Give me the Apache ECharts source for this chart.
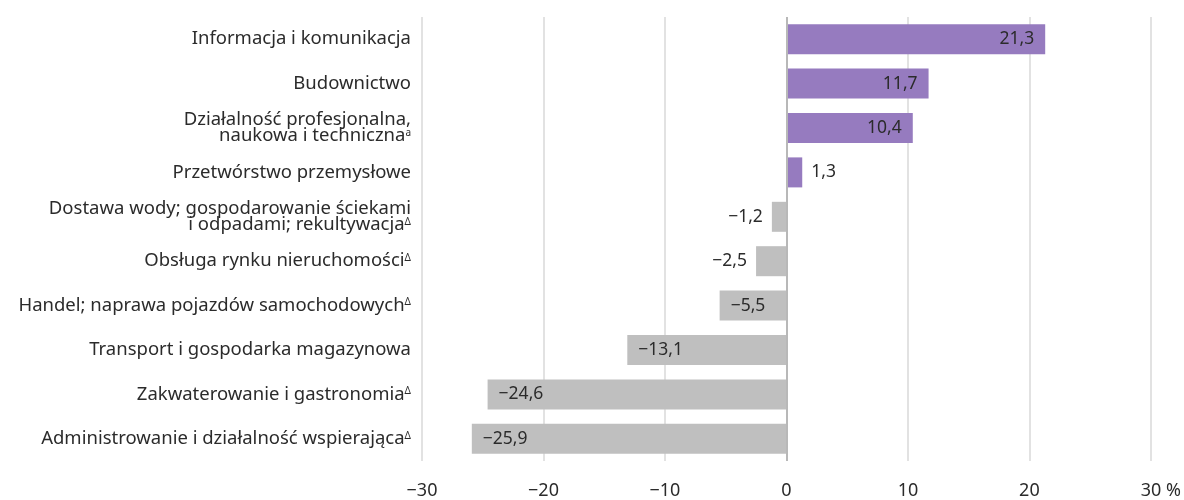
<!DOCTYPE html>
<html>
<head>
<meta charset="utf-8">
<script src="https://cdn.jsdelivr.net/npm/echarts@6/dist/echarts.min.js"></script>
<style>
  html, body { margin: 0; padding: 0; background: #fff; }
  #chart { width: 1184px; height: 500px; }
</style>
</head>
<body>
<div id="chart"></div>
<script>
const categories = [
  'Informacja i komunikacja',
  'Budownictwo',
  'Działalność profesjonalna,\nnaukowa i techniczna',
  'Przetwórstwo przemysłowe',
  'Dostawa wody; gospodarowanie ściekami\ni odpadami; rekultywacja',
  'Obsługa rynku nieruchomości',
  'Handel; naprawa pojazdów samochodowych',
  'Transport i gospodarka magazynowa',
  'Zakwaterowanie i gastronomia',
  'Administrowanie i działalność wspierająca'
];
// przypisy przy nazwach sekcji
const marks = ['', '', 'a', '', 'Δ', 'Δ', 'Δ', '', 'Δ', 'Δ'];
const values = [21.3, 11.7, 10.4, 1.3, -1.2, -2.5, -5.5, -13.1, -24.6, -25.9];
const xTicks = [-30, -20, -10, 0, 10, 20, 30];

const FONT = '"Noto Sans", sans-serif';
const TEXT = '#2b2b2b';

const fmt = v => v.toFixed(1).replace('.', ',').replace('-', '\u2212');

// etykieta w środku słupka gdy słupek jest dość długi
const barData = values.map(v => {
  const inside = Math.abs(v) > 4;
  return {
    value: v,
    itemStyle: { color: v >= 0 ? '#967bbf' : '#bfbfbf' },
    label: {
      position: v >= 0 ? (inside ? 'insideRight' : 'right') : (inside ? 'insideLeft' : 'left'),
      distance: inside ? 11 : 9
    }
  };
});

const chart = echarts.init(document.getElementById('chart'));
chart.setOption({
  animation: false,
  textStyle: { fontFamily: FONT },
  grid: { left: 422, right: 32, top: 17, bottom: 39, containLabel: false },
  xAxis: {
    type: 'value',
    min: xTicks[0],
    max: xTicks[xTicks.length - 1],
    interval: 10,
    axisLine: { show: false },
    axisTick: { show: false },
    splitLine: { lineStyle: { color: '#d9d9d9', width: 1.5 } },
    axisLabel: {
      fontFamily: FONT,
      fontSize: 18,
      color: TEXT,
      margin: 21,
      formatter: v => v === 30 ? '{n|30 %}' : String(v).replace('-', '\u2212'),
      rich: { n: { fontFamily: FONT, fontSize: 18, color: TEXT, padding: [0, 0, 0, 20] } }
    }
  },
  yAxis: {
    type: 'category',
    inverse: true,
    data: categories,
    axisLine: { show: false },
    axisTick: { show: false },
    axisLabel: {
      fontFamily: FONT,
      fontSize: 18.5,
      color: TEXT,
      lineHeight: 16,
      margin: 11,
      formatter: (name, i) => marks[i] ? name + '{s|' + marks[i] + '}' : name,
      rich: {
        s: { fontFamily: FONT, fontSize: 10, color: TEXT, verticalAlign: 'top', lineHeight: 16 }
      }
    }
  },
  series: [{
    type: 'bar',
    data: barData,
    barWidth: 30,
    label: {
      show: true,
      fontFamily: FONT,
      fontSize: 17.5,
      color: TEXT,
      formatter: p => fmt(p.value)
    },
    markLine: {
      silent: true,
      symbol: 'none',
      label: { show: false },
      lineStyle: { color: '#b8b8b8', width: 2, type: 'solid' },
      data: [{ xAxis: 0 }]
    }
  }]
});
</script>
</body>
</html>
